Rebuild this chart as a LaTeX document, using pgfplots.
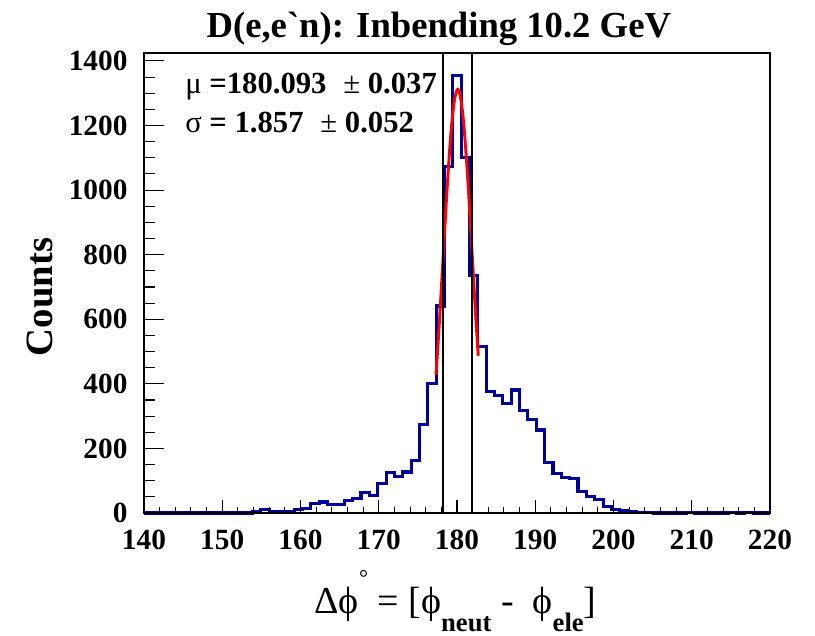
\documentclass[border=0pt]{standalone}
\usepackage{pgfplots}
\usepackage{pgfplotstable}
\usepackage{fontspec}
\setmainfont{Liberation Serif}
\pgfplotsset{compat=1.18}

\definecolor{histblue}{RGB}{0,0,153}

% 75 bins over [140,220]: left bin edge and counts
\pgfplotstableread{
x y
140 0
141.0667 0
142.1333 0
143.2 0
144.2667 0
145.3333 0
146.4 0
147.4667 0
148.5333 0
149.6 0
150.6667 0
151.7333 0
152.8 0
153.8667 3
154.9333 10
156 4
157.0667 4
158.1333 6
159.2 11
160.2667 14
161.3333 28
162.4 34
163.4667 25
164.5333 26
165.6 40
166.6667 45
167.7333 63
168.8 53
169.8667 92
170.9333 126
172 114
173.0667 127
174.1333 163
175.2 275
176.2667 400
177.3333 641
178.4 1072
179.4667 1356
180.5333 1101
181.6 735
182.6667 517
183.7333 376
184.8 363
185.8667 338
186.9333 381
188 317
189.0667 290
190.1333 257
191.2 157
192.2667 121
193.3333 110
194.4 107
195.4667 66
196.5333 51
197.6 43
198.6667 20
199.7333 11
200.8 7
201.8667 3
202.9333 1
204 1
205.0667 0
206.1333 0
207.2 0
208.2667 0
209.3333 1
210.4 0
211.4667 0
212.5333 0
213.6 0
214.6667 1
215.7333 0
216.8 1
217.8667 0
218.9333 0
220 0
}\histdata

% Gaussian fit (mu = 180.093, sigma = 1.857), sampled over the fit range
\pgfplotstableread{
x y
177.31 427
177.6 533
177.9 653
178.2 780
178.5 908
178.8 1030
179.1 1137
179.4 1224
179.7 1283
180.0 1310
180.093 1312
180.3 1304
180.6 1264
180.9 1194
181.2 1098
181.5 985
181.8 860
182.1 732
182.4 606
182.72 487
}\fitdata

\pgfplotsset{
  rootframe/.style={
    scale only axis, width=469.5pt, height=345pt,
    xmin=140, xmax=220, ymin=0, ymax=1424.6,
    axis line style={black, line width=1.1pt},
    tick align=inside,
    xtick={140,150,...,220}, ytick={0,200,...,1400},
    minor x tick num=4, minor y tick num=3,
    xtick pos=bottom, ytick pos=left,
    tick style={black, line width=0.8pt},
  },
}

\begin{document}
\begin{tikzpicture}
\useasboundingbox (-108pt,-92.25pt) rectangle (503.25pt,384.75pt);

\begin{axis}[
  rootframe,
  clip=false,
  major tick length=15pt, minor tick length=8.25pt,
  xtick style={draw=none},
  /pgf/number format/assume math mode=true,
  /pgf/number format/1000 sep={},
  every tick label/.append style={inner sep=0pt, font=\fontsize{22}{22}\selectfont\bfseries},
  yticklabel style={anchor=east, xshift=-12.2pt},
  xticklabel style={anchor=north, yshift=-12.75pt},
]
  \addplot[const plot, histblue, line width=2.3pt, line join=miter] table[x=x, y=y] {\histdata};
  \addplot[red, line width=2.2pt, smooth] table[x=x, y=y] {\fitdata};
  \addplot[black, line width=1.7pt] coordinates {(178.236,0) (178.236,1424.6)};
  \addplot[black, line width=1.7pt] coordinates {(181.950,0) (181.950,1424.6)};

  % fit results
  \node[anchor=base west, inner sep=0pt, font=\fontsize{23}{23}\selectfont]
    at (rel axis cs:0.0655,0.9124) {μ \textbf{=180.093}\hspace{0.55em}± \textbf{0.037}};
  \node[anchor=base west, inner sep=0pt, font=\fontsize{23}{23}\selectfont]
    at (rel axis cs:0.0655,0.8267) {σ \textbf{= 1.857}\hspace{0.55em}± \textbf{0.052}};

  % title
  \node[anchor=base, inner sep=0pt, font=\fontsize{27.5}{27.5}\selectfont\bfseries]
    at (rel axis cs:0.471,1.0333) {D(e,e\textasciigrave n): Inbending 10.2 GeV};

  % y label
  \node[anchor=base, rotate=90, inner sep=0pt, font=\fontsize{29}{29}\selectfont\bfseries]
    at (rel axis cs:-0.1454,0.4696) {Counts};

  % x label
  \node[anchor=base, inner sep=0pt, font=\fontsize{28.5}{28.5}\selectfont]
    at (rel axis cs:0.4976,-0.218)
    {Δϕ\raisebox{20.5pt}{\fontsize{17}{17}\selectfont °}\ = [ϕ\raisebox{-13.5pt}{\fontsize{20}{20}\selectfont\bfseries neut}\ -\ \ ϕ\raisebox{-13.5pt}{\fontsize{20}{20}\selectfont\bfseries ele}]};
\end{axis}

% x-axis ticks, shorter than the y-axis ones
\begin{axis}[
  rootframe,
  major tick length=9.75pt, minor tick length=4.5pt,
  ytick=\empty, xticklabels={},
]
\end{axis}
\end{tikzpicture}
\end{document}
